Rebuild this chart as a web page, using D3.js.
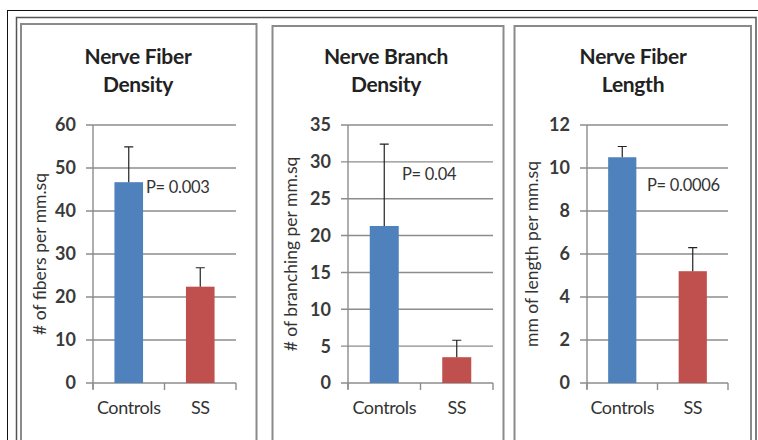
<!DOCTYPE html>
<html>
<head>
<meta charset="utf-8">
<script src="https://cdn.jsdelivr.net/npm/d3@7"></script>
<style>
  body { margin: 0; background: #fff; }
  svg { display: block; font-family: Lato, "Open Sans", sans-serif; }
</style>
</head>
<body>
<div id="chart"></div>
<script>
// Daten
const categories = ["Controls", "SS"];
const panelTitles = [["Nerve Fiber", "Density"], ["Nerve Branch", "Density"], ["Nerve Fiber", "Length"]];
const yAxisLabels = ["# of fibers per mm.sq", "# of branching per mm.sq", "mm of length per mm.sq"];
const controlsMeans = [46.7, 21.3, 10.5];
const controlsErrors = [8.2, 11.1, 0.5];
const ssMeans = [22.4, 3.5, 5.2];
const ssErrors = [4.4, 2.3, 1.1];
const yMaxima = [60, 35, 12];
const yTickSteps = [10, 5, 2];
const pLabels = ["P= 0.003", "P= 0.04", "P= 0.0006"];
const pLabelValues = [45.6, 28.4, 9.2];

const colors = ["#4f81bd", "#c0504d"];

// Layout der drei Panels
const panels = [
  { box: [21, 24, 256.5], plot: [93, 236], titleX: 138, yLabelX: 40, pX: 146 },
  { box: [272.5, 26, 503.5], plot: [348, 493], titleX: 386, yLabelX: 291, pX: 402 },
  { box: [514.5, 26, 751], plot: [587, 728], titleX: 633, yLabelX: 532, pX: 647 }
];
const plotTop = 125, plotBottom = 383;

const svg = d3.select("#chart").append("svg")
  .attr("width", 758)
  .attr("height", 440);

// Rahmen
svg.append("rect")
  .attr("x", 7.5).attr("y", 10.5).attr("width", 800).attr("height", 500)
  .attr("fill", "none").attr("stroke", "#111").attr("stroke-width", 1);
svg.append("rect")
  .attr("x", 16.5).attr("y", 17.5).attr("width", 739.5).attr("height", 500)
  .attr("fill", "none").attr("stroke", "#555").attr("stroke-width", 1.5);

panels.forEach((p, i) => {
  const data = categories.map((c, j) => ({
    cat: c,
    mean: j === 0 ? controlsMeans[i] : ssMeans[i],
    err: j === 0 ? controlsErrors[i] : ssErrors[i],
    color: colors[j]
  }));

  // Panel-Box
  svg.append("rect")
    .attr("x", p.box[0]).attr("y", p.box[1])
    .attr("width", p.box[2] - p.box[0]).attr("height", 500)
    .attr("fill", "#fff").attr("stroke", "#8a8a8a").attr("stroke-width", 2);

  const g = svg.append("g");

  // Skalen
  const x = d3.scaleBand()
    .domain(categories)
    .range(p.plot)
    .paddingInner(0.6)
    .paddingOuter(0.3);

  const y = d3.scaleLinear()
    .domain([0, yMaxima[i]])
    .range([plotBottom, plotTop]);

  const ticks = d3.range(0, yMaxima[i] + yTickSteps[i] / 2, yTickSteps[i]);

  // Gitterlinien
  g.selectAll(".grid")
    .data(ticks)
    .join("line")
    .attr("x1", p.plot[0] - 7).attr("x2", p.plot[1])
    .attr("y1", d => y(d)).attr("y2", d => y(d))
    .attr("stroke", "#8c8c8c").attr("stroke-width", 1.4);

  // Y-Achse
  g.append("line")
    .attr("x1", p.plot[0]).attr("x2", p.plot[0])
    .attr("y1", plotTop).attr("y2", plotBottom + 6)
    .attr("stroke", "#8c8c8c").attr("stroke-width", 1.4);

  g.selectAll(".ytick")
    .data(ticks)
    .join("text")
    .attr("x", p.plot[0] - 17)
    .attr("y", d => y(d))
    .attr("dy", "0.36em")
    .attr("text-anchor", "end")
    .attr("font-size", 18)
    .attr("font-weight", 700)
    .attr("fill", "#3a3a3a")
    .text(d => d);

  // X-Achsen-Ticks an Kategoriegrenzen
  const bounds = [p.plot[0], p.plot[0] + (p.plot[1] - p.plot[0]) / 2, p.plot[1]];
  g.selectAll(".xtick")
    .data(bounds)
    .join("line")
    .attr("x1", d => d).attr("x2", d => d)
    .attr("y1", plotBottom).attr("y2", plotBottom + 7)
    .attr("stroke", "#8c8c8c").attr("stroke-width", 1.4);

  // Balken
  g.selectAll(".bar")
    .data(data)
    .join("rect")
    .attr("x", d => x(d.cat))
    .attr("width", x.bandwidth())
    .attr("y", d => y(d.mean))
    .attr("height", d => y(0) - y(d.mean))
    .attr("fill", d => d.color);

  // Fehlerbalken (nur oben)
  g.selectAll(".err")
    .data(data)
    .join("path")
    .attr("d", d => {
      const cx = x(d.cat) + x.bandwidth() / 2;
      const y0 = y(d.mean), y1 = y(d.mean + d.err);
      return `M${cx},${y0}V${y1}M${cx - 4.5},${y1}H${cx + 4.5}`;
    })
    .attr("fill", "none")
    .attr("stroke", "#222")
    .attr("stroke-width", 1.2);

  // Kategorie-Beschriftung
  g.selectAll(".xlab")
    .data(categories)
    .join("text")
    .attr("x", d => x(d) + x.bandwidth() / 2)
    .attr("y", 414)
    .attr("text-anchor", "middle")
    .attr("font-size", 18)
    .attr("letter-spacing", -0.4)
    .attr("fill", "#333")
    .text(d => d);

  // Titel
  g.selectAll(".title")
    .data(panelTitles[i])
    .join("text")
    .attr("x", p.titleX)
    .attr("y", (d, k) => 64 + k * 28)
    .attr("text-anchor", "middle")
    .attr("font-size", 21)
    .attr("font-weight", 700)
    .attr("letter-spacing", -0.3)
    .attr("fill", "#222")
    .text(d => d);

  // Y-Achsentitel
  g.append("text")
    .attr("transform", `translate(${p.yLabelX},${(plotTop + plotBottom) / 2}) rotate(-90)`)
    .attr("dy", "0.35em")
    .attr("text-anchor", "middle")
    .attr("font-size", 17.5)
    .attr("fill", "#333")
    .text(yAxisLabels[i]);

  // P-Wert
  g.append("text")
    .attr("x", p.pX)
    .attr("y", y(pLabelValues[i]))
    .attr("dy", "0.36em")
    .attr("font-size", 16.5)
    .attr("letter-spacing", -0.3)
    .attr("fill", "#333")
    .text(pLabels[i]);
});
</script>
</body>
</html>
